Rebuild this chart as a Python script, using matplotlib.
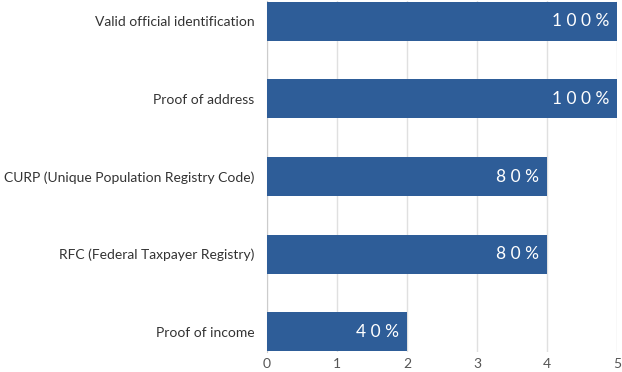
import matplotlib
matplotlib.use('Agg')
import matplotlib.pyplot as plt

# data
categories = ['Valid official identification', 'Proof of address',
              'CURP (Unique Population Registry Code)',
              'RFC (Federal Taxpayer Registry)', 'Proof of income']
counts = [5, 5, 4, 4, 2]
pct_labels = ['100%', '100%', '80%', '80%', '40%']
x_ticks = [0, 1, 2, 3, 4, 5]

plt.rcParams['font.family'] = ['Lato', 'DejaVu Sans']

fig = plt.figure(figsize=(6.22, 3.72), dpi=100)
ax = fig.add_axes([267 / 622, 1 - 352 / 372, 350 / 622, 351 / 372])

ypos = list(range(len(categories)))
ax.barh(ypos, counts, height=0.5, color='#2e5d98', zorder=3)

for y, v, lab in zip(ypos, counts, pct_labels):
    spaced = ' '.join(lab)
    ax.text(v - 0.11, y, spaced, color='white', fontsize=12.5,
            ha='right', va='center', zorder=4)

ax.set_xlim(0, 5)
ax.set_ylim(4.26, -0.26)
ax.set_xticks(x_ticks)
ax.set_xticklabels([str(t) for t in x_ticks], color='#555555', fontsize=10)
ax.set_yticks(ypos)
ax.set_yticklabels(categories, color='#333333', fontsize=10)
ax.tick_params(axis='both', length=0)
ax.tick_params(axis='y', pad=9)
ax.tick_params(axis='x', pad=4)
ax.grid(axis='x', color='#e0e0e0', linewidth=1, zorder=0)
for s in ['top', 'right', 'bottom']:
    ax.spines[s].set_visible(False)
ax.spines['left'].set_color('#cccccc')

plt.savefig('out.png', dpi=100)
